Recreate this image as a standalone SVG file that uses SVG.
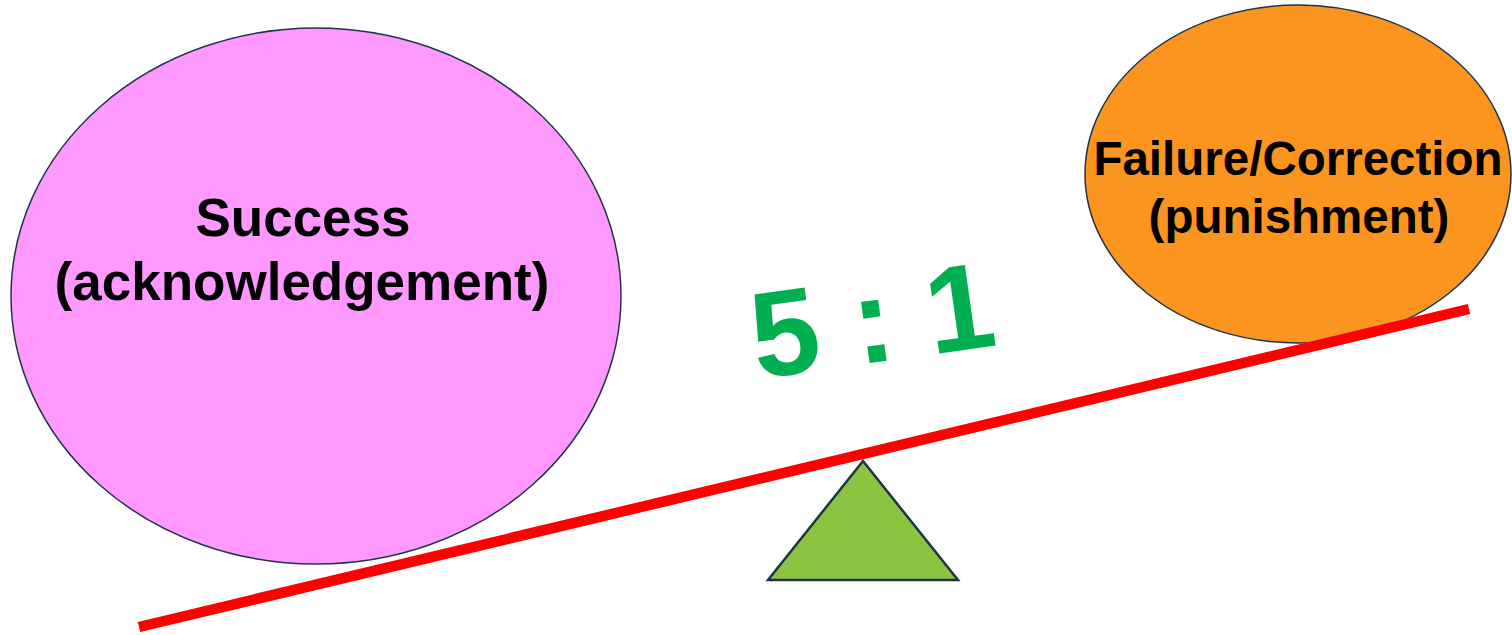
<svg xmlns="http://www.w3.org/2000/svg" width="1512" height="635" viewBox="0 0 1512 635">
<style>
.lbl{font-family:"Liberation Sans",Arial,sans-serif;font-weight:bold;fill:#000;text-anchor:middle}
.ell{stroke:#1F3349;stroke-width:1.5}
</style>
<rect width="1512" height="635" fill="#fff"/>
<g id="success">
<ellipse class="ell" cx="316" cy="296" rx="305" ry="268" fill="#FF99FF"/>
<text class="lbl" x="303" y="236" font-size="53">Success</text>
<text class="lbl" x="302" y="300" font-size="53">(acknowledgement)</text>
</g>
<g id="failure">
<ellipse class="ell" cx="1298" cy="174" rx="213" ry="169" fill="#FC9420"/>
<text class="lbl" x="1298" y="175" font-size="47.5">Failure/Correction</text>
<text class="lbl" x="1299" y="233" font-size="47.5">(punishment)</text>
</g>
<g id="connectors">
<line x1="139" y1="627" x2="1469" y2="309" stroke="#FF0000" stroke-width="10.5"/>
</g>
<g id="fulcrum">
<polygon points="863,461 768,580 958,580" fill="#8BC441" stroke="#1F3349" stroke-width="2.5" stroke-linejoin="miter"/>
</g>
<g id="ratio">
<text transform="translate(878,362) rotate(-8)" font-family="'Liberation Sans',Arial,sans-serif" font-weight="bold" font-size="122" fill="#00B050" text-anchor="middle">5 : 1</text>
</g>
</svg>
